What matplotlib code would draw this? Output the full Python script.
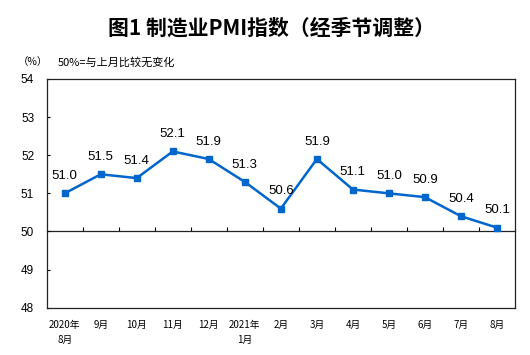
import matplotlib
matplotlib.use("Agg")
import matplotlib.pyplot as plt
import numpy as np

categories = ["2020年\n8月", "9月", "10月", "11月", "12月", "2021年\n1月", "2月",
              "3月", "4月", "5月", "6月", "7月", "8月"]
pmi = [51.0, 51.5, 51.4, 52.1, 51.9, 51.3, 50.6, 51.9, 51.1, 51.0, 50.9, 50.4, 50.1]
yticks = [48, 49, 50, 51, 52, 53, 54]
title = "图1 制造业PMI指数（经季节调整）"
unit_text = "（%）"
note_text = "50%=与上月比较无变化"

CJK = ["Noto Sans CJK SC", "DejaVu Sans"]
LAT = ["Liberation Sans", "Noto Sans CJK SC"]
color = "#0066CC"

fig = plt.figure(figsize=(5.30, 3.55), dpi=100)
ax = fig.add_axes([0.0881, 0.1332, 0.8836, 0.6443])

x = np.arange(len(pmi))
ax.plot(x, pmi, color=color, lw=1.8, marker="s", markersize=4.5, zorder=3)
for xi, v in zip(x, pmi):
    ax.annotate(f"{v:.1f}", (xi, v), xytext=(0, 12.5), textcoords="offset points",
                ha="center", va="center", fontsize=9.5, family=LAT, color="#000000")

ax.set_xlim(-0.5, len(pmi) - 0.5)
ax.set_ylim(yticks[0], yticks[-1])
ax.set_yticks(yticks)
ax.set_yticklabels([str(t) for t in yticks], family=LAT, fontsize=8.5)
ax.tick_params(axis="y", direction="in", length=2.5, width=0.8, pad=9)
ax.set_xticks(x)
ax.set_xticklabels(categories, family=CJK, fontsize=7, linespacing=1.55)
ax.tick_params(axis="x", length=0, pad=9)
for s in ax.spines.values():
    s.set_linewidth(0.9)
    s.set_color("#222222")

# baseline at 50 with category-boundary ticks
loc = (50 - yticks[0]) / (yticks[-1] - yticks[0])
sec = ax.secondary_xaxis(loc)
sec.set_xticks(np.arange(len(pmi) - 1) + 0.5)
sec.set_xticklabels([])
sec.tick_params(axis="x", direction="in", length=3, width=0.8)
sec.spines["bottom"].set_linewidth(0.9)
sec.spines["bottom"].set_color("#222222")

fig.text(271 / 530, 1 - 28 / 355, title, ha="center", va="center",
         fontsize=15, fontweight="bold", family=CJK)
fig.text(18 / 530, 1 - 62 / 355, unit_text, ha="left", va="center",
         fontsize=7.5, family=CJK)
fig.text(58 / 530, 1 - 62 / 355, note_text, ha="left", va="center",
         fontsize=8, family=CJK)

fig.savefig("out.png", dpi=100)
